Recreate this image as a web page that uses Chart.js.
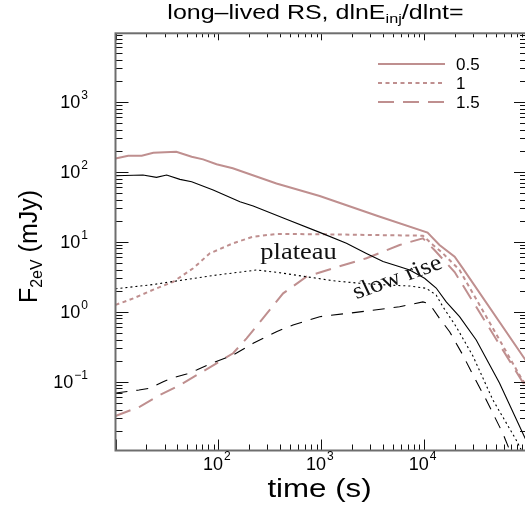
<!DOCTYPE html>
<html>
<head>
<meta charset="utf-8">
<script src="https://cdn.jsdelivr.net/npm/chart.js@4/dist/chart.umd.min.js"></script>
<style>
  html, body { margin: 0; padding: 0; background: #fff; overflow: hidden; }
  #wrap { width: 540px; height: 510px; }
</style>
</head>
<body>
<div id="wrap"><canvas id="c" width="540" height="510"></canvas></div>
<script>
// --- data (time in s, flux in mJy) ---
const legendLabels = ['0.5', '1', '1.5'];

const brownSolidT = [10, 13.3, 18, 23.3, 39, 55, 71, 96, 138, 367, 966, 3540, 10800, 14100, 19800, 23700, 100000];
const brownSolidF = [155, 169, 169, 187, 193, 164, 150, 128, 112, 68, 45, 23.3, 13.5, 9.0, 6.1, 4.2, 0.19];

const brownDotT = [10, 14.9, 25.1, 36.4, 56.9, 82.6, 139, 218, 367, 966, 2750, 9730, 12200, 15100, 22100, 87900, 100000];
const brownDotF = [1.25, 1.55, 2.16, 2.68, 4.17, 6.83, 9.5, 11.8, 12.9, 12.8, 12.5, 12.2, 9.0, 6.9, 3.94, 0.113, 0.0855];

const brownDashT = [10, 17.3, 27, 42.3, 66, 96, 139, 188, 272, 426, 718, 1300, 2750, 5780, 9730, 12600, 19800, 94600, 100000];
const brownDashF = [0.0324, 0.044, 0.0646, 0.0897, 0.132, 0.183, 0.255, 0.417, 0.81, 1.83, 3.16, 4.17, 5.8, 8.97, 11.2, 7.6, 3.69, 0.0897, 0.079];

const blackSolidT = [10, 18.5, 25, 31.4, 42.3, 55, 89, 162, 218, 459, 966, 1757, 2748, 3986, 5790, 7240, 10100, 13100, 16400, 22100, 32100, 54000, 91000, 100000];
const blackSolidF = [87.7, 89.8, 83, 89.8, 77.8, 72, 54.8, 37.3, 32.4, 20.9, 13.6, 9.5, 6.8, 5.2, 4.4, 3.94, 3.0, 2.18, 1.38, 0.85, 0.394, 0.096, 0.0183, 0.0136];

const blackDotT = [10, 21.6, 45.5, 96, 235, 395, 718, 1300, 2370, 4300, 7240, 10500, 13100, 15200, 20500, 29800, 46600, 78500, 100000];
const blackDotF = [2.13, 2.41, 2.84, 3.34, 3.94, 3.61, 3.16, 2.77, 2.55, 2.41, 2.33, 2.16, 1.73, 1.18, 0.61, 0.233, 0.0548, 0.0147, 0.0073];

const blackDashT = [10, 16.9, 21.6, 29.1, 35.1, 49.1, 61.4, 82.6, 139, 218, 367, 532, 966, 2750, 5780, 9730, 11300, 14100, 17700, 23800, 29800, 40200, 58200, 67600, 100000];
const blackDashF = [0.069, 0.076, 0.0805, 0.1, 0.112, 0.129, 0.147, 0.179, 0.24, 0.354, 0.518, 0.646, 0.849, 1.02, 1.18, 1.38, 1.29, 0.805, 0.518, 0.24, 0.125, 0.0548, 0.0183, 0.0106, 0.0034];

const xDecades = [100, 1000, 10000];
const xExponents = ['2', '3', '4'];
const yDecades = [0.1, 1, 10, 100, 1000];
const yExponents = ['\u22121', '0', '1', '2', '3'];

const BROWN = '#bf8f8f';
const SANS = '"Liberation Sans", Arial, Helvetica, sans-serif';
const SERIF = '"Liberation Serif", "Times New Roman", serif';

function pts(t, f) {
  return t.map((v, i) => ({ x: v, y: f[i] }));
}

// draws text pieces (normal / sub / superscript) one after another
function richText(ctx, parts, x, y, align, sx) {
  let w = 0;
  parts.forEach(p => { ctx.font = p[1] + 'px ' + SANS; w += ctx.measureText(p[0]).width; });
  ctx.save();
  ctx.translate(x, y);
  ctx.scale(sx || 1, 1);
  let cx = align === 'center' ? -w / 2 : (align === 'right' ? -w : 0);
  ctx.textAlign = 'left';
  parts.forEach(p => {
    ctx.font = p[1] + 'px ' + SANS;
    ctx.fillText(p[0], cx, p[2] || 0);
    cx += ctx.measureText(p[0]).width;
  });
  ctx.restore();
}

const framePlugin = {
  id: 'frame',
  afterDatasetsDraw(chart) {
    const ctx = chart.ctx;
    const a = chart.chartArea;
    const xs = chart.scales.x, ys = chart.scales.y;

    ctx.save();
    // ticks, all four sides, pointing inward
    ctx.strokeStyle = '#111';
    ctx.lineWidth = 1;
    ctx.beginPath();
    for (let k = 1; k <= 5; k++) {
      for (let m = 1; m <= 9; m++) {
        const v = m * Math.pow(10, k);
        if (v < xs.min || v > xs.max) continue;
        const px = Math.round(xs.getPixelForValue(v)) + 0.5;
        const major = m === 1;
        ctx.moveTo(px, a.bottom); ctx.lineTo(px, a.bottom - (major ? 11 : 6));
        ctx.moveTo(px, a.top); ctx.lineTo(px, a.top + (major ? 7 : 4));
      }
    }
    for (let k = -2; k <= 4; k++) {
      for (let m = 1; m <= 9; m++) {
        const v = m * Math.pow(10, k);
        if (v < ys.min || v > ys.max) continue;
        const py = Math.round(ys.getPixelForValue(v)) + 0.5;
        const major = m === 1;
        ctx.moveTo(a.left, py); ctx.lineTo(a.left + (major ? 13 : 7), py);
        ctx.moveTo(a.right, py); ctx.lineTo(a.right - (major ? 13 : 7), py);
      }
    }
    ctx.stroke();

    // frame
    ctx.strokeStyle = '#6e6e6e';
    ctx.lineWidth = 2;
    ctx.strokeRect(a.left, a.top, a.right - a.left, a.bottom - a.top);

    // tick labels
    ctx.fillStyle = '#000';
    ctx.textBaseline = 'middle';
    xDecades.forEach((v, i) => {
      const px = xs.getPixelForValue(v);
      ctx.font = '18px ' + SANS;
      const w1 = ctx.measureText('10').width;
      ctx.font = '12px ' + SANS;
      const w2 = ctx.measureText(xExponents[i]).width;
      const x0 = px - 2 - (w1 + w2) / 2;
      ctx.textAlign = 'left';
      ctx.font = '18px ' + SANS;
      ctx.fillText('10', x0, 465);
      ctx.font = '12px ' + SANS;
      ctx.fillText(xExponents[i], x0 + w1 + 1, 457);
    });
    yDecades.forEach((v, i) => {
      const py = ys.getPixelForValue(v);
      ctx.font = '12px ' + SANS;
      const w2 = ctx.measureText(yExponents[i]).width;
      ctx.textAlign = 'left';
      ctx.fillText(yExponents[i], 88 - w2, py - 6);
      ctx.textAlign = 'right';
      ctx.font = '18px ' + SANS;
      ctx.fillText('10', 87 - w2, py + 1.5);
    });

    // titles
    ctx.textBaseline = 'alphabetic';
    richText(ctx, [['long\u2013lived RS, dlnE', 20, 0], ['inj', 13, 4], ['/dlnt=', 20, 0]], 315.5, 18.5, 'center', 1.25);
    richText(ctx, [['time (s)', 25, 0]], 319.5, 497, 'center', 1.25);
    ctx.save();
    ctx.translate(37, 246.5);
    ctx.rotate(-Math.PI / 2);
    richText(ctx, [['F', 25, 0], ['2eV', 16, 5], [' (mJy)', 25, 0]], 0, 0, 'center', 1);
    ctx.restore();

    // legend (brown series only)
    const lys = [64, 83, 102];
    chart.data.datasets.forEach(ds => {
      const li = legendLabels.indexOf(ds.label);
      if (li < 0) return;
      ctx.strokeStyle = ds.borderColor;
      ctx.lineWidth = ds.borderWidth;
      ctx.setLineDash(ds.borderDash || []);
      ctx.beginPath();
      ctx.moveTo(378, lys[li]); ctx.lineTo(445, lys[li]);
      ctx.stroke();
      ctx.setLineDash([]);
      ctx.fillStyle = '#000';
      ctx.font = '17px ' + SANS;
      ctx.textAlign = 'left';
      ctx.textBaseline = 'middle';
      ctx.fillText(ds.label, 456, lys[li] + 1);
    });

    // annotations (slightly wide, like the rest of the figure text)
    const sx = 1.15;
    ctx.fillStyle = '#111';
    ctx.font = '23px ' + SERIF;
    ctx.textAlign = 'center';
    ctx.textBaseline = 'middle';
    ctx.save();
    ctx.translate(298.5, 253);
    ctx.scale(sx, 1);
    ctx.fillText('plateau', 0, 0);
    ctx.restore();
    ctx.save();
    ctx.translate(397.5, 278);
    ctx.scale(sx, 1);
    ctx.rotate(Math.atan(sx * Math.tan(-19.8 * Math.PI / 180)));
    ctx.fillText('slow rise', 0, 0);
    ctx.restore();

    ctx.restore();
  }
};

function line(label, t, f, color, width, dash) {
  return {
    label, data: pts(t, f), borderColor: color, borderWidth: width,
    borderDash: dash, pointRadius: 0, fill: false, tension: 0
  };
}

new Chart(document.getElementById('c'), {
  type: 'line',
  data: {
    datasets: [
      line('black-solid', blackSolidT, blackSolidF, '#000', 1.1, []),
      line('black-dot', blackDotT, blackDotF, '#000', 1.1, [2, 3]),
      line('black-dash', blackDashT, blackDashF, '#000', 1.1, [12, 9]),
      line(legendLabels[0], brownSolidT, brownSolidF, BROWN, 2, []),
      line(legendLabels[1], brownDotT, brownDotF, BROWN, 2, [4, 3.5]),
      line(legendLabels[2], brownDashT, brownDashF, BROWN, 2, [16, 9])
    ]
  },
  options: {
    responsive: false,
    animation: false,
    events: [],
    layout: { padding: { left: 115.5, right: 13, top: 33.3, bottom: 59.5 } },
    plugins: { legend: { display: false }, tooltip: { enabled: false }, title: { display: false } },
    scales: {
      x: {
        type: 'logarithmic', min: 10, max: 100000,
        ticks: { display: false }, grid: { display: false }, border: { display: false },
        afterFit: s => { s.height = 0; }
      },
      y: {
        type: 'logarithmic', min: 0.0104, max: 9500,
        ticks: { display: false }, grid: { display: false }, border: { display: false },
        afterFit: s => { s.width = 0; }
      }
    }
  },
  plugins: [framePlugin]
});
</script>
</body>
</html>
